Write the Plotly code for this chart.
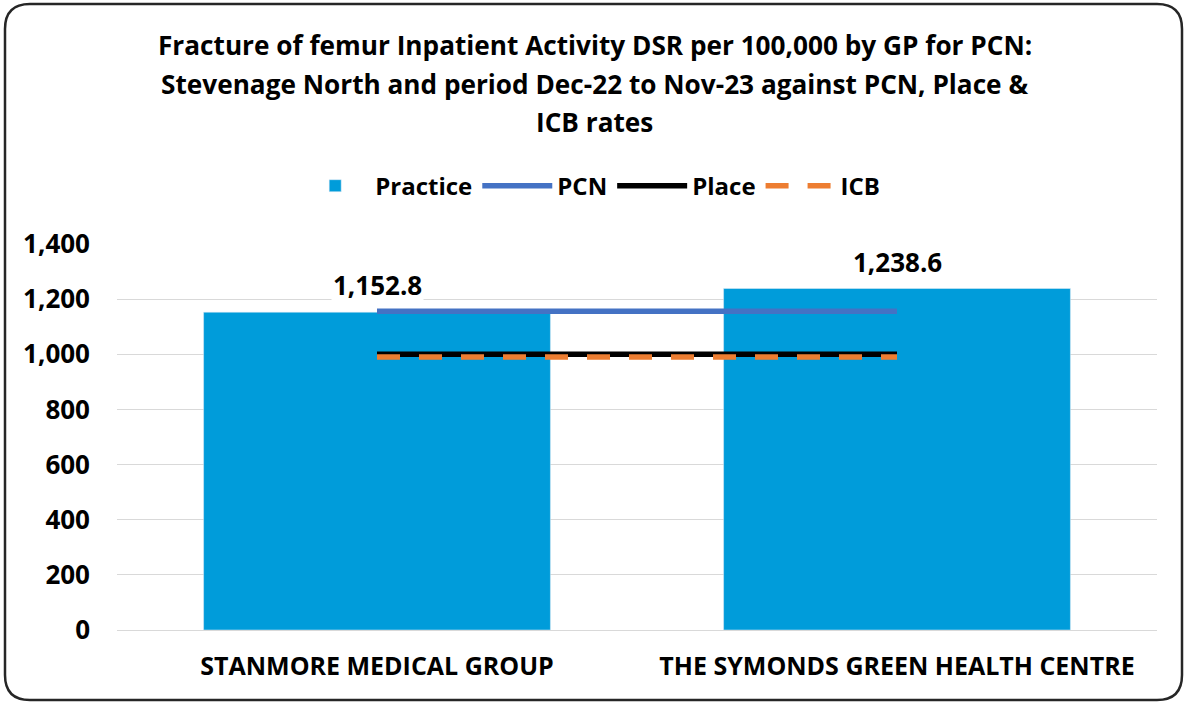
import plotly.graph_objects as go

categories = ["STANMORE MEDICAL GROUP", "THE SYMONDS GREEN HEALTH CENTRE"]
practice = [1152.8, 1238.6]
pcn = [1156.0, 1156.0]
place = [1000.0, 1000.0]
icb = [990.0, 990.0]
y_ticks = [0, 200, 400, 600, 800, 1000, 1200, 1400]
title_lines = [
    "Fracture of femur Inpatient Activity DSR per 100,000 by GP for PCN:",
    "Stevenage North and period Dec-22 to Nov-23 against PCN, Place &amp;",
    "ICB rates",
]

FONT = "Open Sans"
BLACK = "#000000"

fig = go.Figure()
fig.add_trace(go.Bar(x=categories, y=practice, name="Practice", marker_color="#009CDA",
                     width=0.667))
fig.add_trace(go.Scatter(x=categories, y=pcn, name="PCN", mode="lines",
                         line=dict(color="#4472C4", width=5.5)))
fig.add_trace(go.Scatter(x=categories, y=place, name="Place", mode="lines",
                         line=dict(color="#000000", width=5.5)))
fig.add_trace(go.Scatter(x=categories, y=icb, name="ICB", mode="lines",
                         line=dict(color="#ED7D31", width=5.5, dash="23px,19px")))

for c, v in zip(categories, practice):
    fig.add_annotation(x=c, y=v, text=f"<b>{v:,.1f}</b>", showarrow=False,
                       yshift=27, bgcolor="white",
                       font=dict(family=FONT, size=26, color=BLACK))

title_y = [1.5155, 1.4145, 1.3161]
for t, yy in zip(title_lines, title_y):
    fig.add_annotation(xref="paper", yref="paper", x=0.4596, y=yy, text=f"<b>{t}</b>",
                       showarrow=False, xanchor="center", yanchor="middle",
                       font=dict(family=FONT, size=26.2, color=BLACK))

fig.update_layout(
    width=1188, height=703,
    paper_bgcolor="white", plot_bgcolor="white",
    margin=dict(l=117, r=31, t=244, b=73, autoexpand=False),
    legend=dict(orientation="h", x=0.455, xanchor="center", y=1.150, yanchor="middle",
                font=dict(family=FONT, size=24, color=BLACK, weight="bold"),
                traceorder="normal", itemwidth=70),
    bargap=0.333,
    xaxis=dict(showline=True, linecolor="#D9D9D9", linewidth=1, automargin=False,
               tickfont=dict(family=FONT, size=25, color=BLACK, weight="bold"),
               ticks="", ticklabelstandoff=14),
    yaxis=dict(range=[0, 1400], tickvals=y_ticks, tickformat=",", automargin=False,
               gridcolor="#D9D9D9", gridwidth=1, zeroline=False,
               tickfont=dict(family=FONT, size=26, color=BLACK, weight="bold"),
               ticks="", ticklabelstandoff=26),
    shapes=[dict(type="path", xref="paper", yref="paper", layer="above",
                 path=("M -0.0837,1.62176 L 1.0000,1.62176 Q 1.02404,1.62176 1.02404,1.55699 "
                       "L 1.02404,-0.11658 Q 1.02404,-0.18135 1.0000,-0.18135 "
                       "L -0.0837,-0.18135 Q -0.10769,-0.18135 -0.10769,-0.11658 "
                       "L -0.10769,1.55699 Q -0.10769,1.62176 -0.0837,1.62176 Z"),
                 line=dict(color="#262626", width=2.5))],
)

fig.write_html("out.html", config={"displayModeBar": False},
               post_script="document.body.style.margin='0';")
